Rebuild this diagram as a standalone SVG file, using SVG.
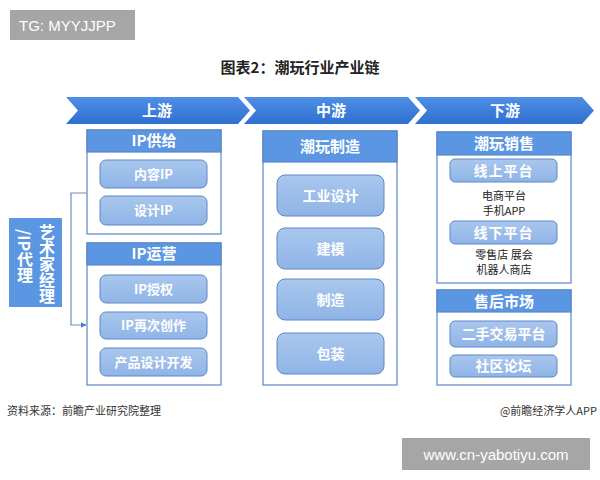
<svg xmlns="http://www.w3.org/2000/svg" width="600" height="480" viewBox="0 0 600 480">
<defs>
<linearGradient id="chev" x1="0" y1="0" x2="0" y2="1"><stop offset="0" stop-color="#4f8fe6"/><stop offset="1" stop-color="#2f6fcf"/></linearGradient>
<linearGradient id="pill" x1="0" y1="0" x2="0" y2="1"><stop offset="0" stop-color="#a9c7ee"/><stop offset="1" stop-color="#8fb4e6"/></linearGradient>
<marker id="arr" viewBox="0 0 10 10" refX="9" refY="5" markerWidth="5" markerHeight="5" orient="auto"><path d="M0,0 L10,5 L0,10 z" fill="#4a7fcf"/></marker>
<style>
text{font-family:"Noto Sans CJK SC","Noto Sans",sans-serif;}
.chev{fill:url(#chev);}
.ct{fill:#fff;font-size:15px;font-weight:bold;text-anchor:middle;}
.box{fill:#fff;stroke:#5a86c8;stroke-width:1.2;}
.hdr{fill:#5b96e2;stroke:#5a86c8;stroke-width:1.2;}
.ht{fill:#fff;font-size:15px;font-weight:bold;text-anchor:middle;}
.pill{fill:url(#pill);stroke:#5f88c4;stroke-width:1;}
.pt{fill:#fff;font-size:13px;font-weight:bold;text-anchor:middle;}
.pt2{fill:#fff;font-size:14px;font-weight:bold;text-anchor:middle;}
.plain{fill:#222;font-size:11px;text-anchor:middle;}
.badge{fill:#a6a6a6;}
.bt{fill:#fff;font-size:15px;font-family:"Liberation Sans",Arial,sans-serif;}
.foot{fill:#333;font-size:11px;}
.vt{fill:#fff;font-size:16px;font-weight:bold;writing-mode:vertical-rl;}
</style>
</defs>
<rect width="600" height="480" fill="#fff"/>

<g id="badge-tg"><rect class="badge" x="10" y="10" width="125" height="30"/><text class="bt" x="19" y="31">TG: MYYJJPP</text></g>
<text id="title" x="300" y="73" text-anchor="middle" font-size="15" font-weight="bold" fill="#222">图表2：潮玩行业产业链</text>

<g id="chevrons">
<polygon class="chev" points="66,97 238,97 250,110.5 238,124 66,124 78,110.5"/>
<polygon class="chev" points="244,97 408,97 420,110.5 408,124 244,124 256,110.5"/>
<polygon class="chev" points="415,97 582,97 594,110.5 582,124 415,124 427,110.5"/>
<text class="ct" x="157" y="116">上游</text>
<text class="ct" x="331" y="116">中游</text>
<text class="ct" x="505" y="116">下游</text>
</g>

<g id="ip-supply">
<rect class="box" x="87" y="130" width="134" height="104"/>
<rect class="hdr" x="87" y="130" width="134" height="22"/>
<text class="ht" x="154" y="146">IP供给</text>
<rect class="pill" x="100" y="160" width="107" height="28" rx="6"/>
<text class="pt" x="153.5" y="179">内容IP</text>
<rect class="pill" x="100" y="196" width="107" height="29" rx="6"/>
<text class="pt" x="153.5" y="215">设计IP</text>
</g>

<g id="ip-ops">
<rect class="box" x="87" y="243" width="134" height="142"/>
<rect class="hdr" x="87" y="243" width="134" height="22"/>
<text class="ht" x="154" y="259">IP运营</text>
<rect class="pill" x="100" y="275" width="107" height="28" rx="6"/>
<text class="pt" x="153.5" y="294">IP授权</text>
<rect class="pill" x="100" y="312" width="107" height="27" rx="6"/>
<text class="pt" x="153.5" y="330">IP再次创作</text>
<rect class="pill" x="100" y="348" width="107" height="28" rx="6"/>
<text class="pt" x="153.5" y="367">产品设计开发</text>
</g>

<g id="agent">
<rect x="9" y="218" width="53" height="89" fill="#5b96e2"/>
<text class="vt" x="47" y="224">艺术家经理</text>
<text class="vt" x="25" y="229">/IP代理</text>
</g>

<g id="connectors">
<polyline points="87,193 71,193 71,325 86,325" fill="none" stroke="#6f90bd" stroke-width="1.2" marker-end="url(#arr)"/>
</g>

<g id="toy-manufacture">
<rect class="box" x="263" y="131" width="134" height="254"/>
<rect class="hdr" x="263" y="131" width="134" height="31"/>
<text class="ht" x="330" y="152">潮玩制造</text>
<rect class="pill" x="277" y="175" width="107" height="41" rx="8"/>
<text class="pt2" x="330.5" y="201">工业设计</text>
<rect class="pill" x="277" y="228" width="107" height="41" rx="8"/>
<text class="pt2" x="330.5" y="254">建模</text>
<rect class="pill" x="277" y="279" width="107" height="41" rx="8"/>
<text class="pt2" x="330.5" y="305">制造</text>
<rect class="pill" x="277" y="333" width="107" height="41" rx="8"/>
<text class="pt2" x="330.5" y="359">包装</text>
</g>

<g id="toy-sales">
<rect class="box" x="437" y="132" width="134" height="151"/>
<rect class="hdr" x="437" y="132" width="134" height="23"/>
<text class="ht" x="504" y="149">潮玩销售</text>
<rect class="pill" x="450" y="159" width="107" height="23" rx="5"/>
<text class="pt2" x="503.5" y="176" letter-spacing="1">线上平台</text>
<text class="plain" x="504" y="200">电商平台</text>
<text class="plain" x="504" y="215">手机APP</text>
<rect class="pill" x="450" y="221" width="107" height="23" rx="5"/>
<text class="pt2" x="503.5" y="238" letter-spacing="1">线下平台</text>
<text class="plain" x="504" y="259">零售店 展会</text>
<text class="plain" x="504" y="274">机器人商店</text>
</g>

<g id="after-market">
<rect class="box" x="437" y="290" width="134" height="95"/>
<rect class="hdr" x="437" y="290" width="134" height="22"/>
<text class="ht" x="504" y="307">售后市场</text>
<rect class="pill" x="450" y="321" width="107" height="26" rx="5"/>
<text class="pt2" x="503.5" y="339">二手交易平台</text>
<rect class="pill" x="450" y="355" width="107" height="22" rx="5"/>
<text class="pt2" x="503.5" y="371">社区论坛</text>
</g>

<text class="foot" x="7" y="415">资料来源：前瞻产业研究院整理</text>
<text class="foot" x="597" y="415" text-anchor="end">@前瞻经济学人APP</text>

<g id="badge-url"><rect class="badge" x="402" y="438" width="188" height="32"/><text class="bt" x="496" y="460" text-anchor="middle">www.cn-yabotiyu.com</text></g>
</svg>
